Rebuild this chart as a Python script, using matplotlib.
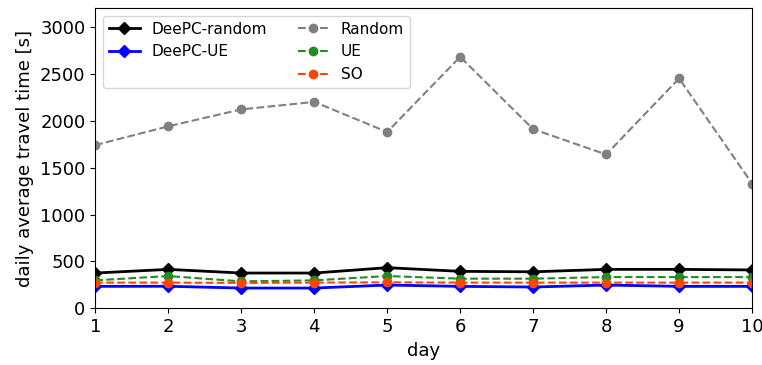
import matplotlib.pyplot as plt
import numpy as np

days = np.arange(1, 11)
deepc_random = [377, 416, 377, 377, 434, 395, 390, 416, 416, 410]
deepc_ue = [235, 236, 217, 217, 249, 235, 228, 249, 235, 235]
random_tt = [1740, 1940, 2120, 2200, 1880, 2680, 1910, 1640, 2450, 1330]
ue_tt = [299, 345, 288, 299, 345, 317, 317, 334, 334, 334]
so_tt = [275, 275, 272, 275, 278, 275, 275, 275, 275, 275]

fig, ax = plt.subplots(figsize=(7.62, 3.65), dpi=100)
h1, = ax.plot(days, deepc_random, "-D", color="black", lw=2, ms=6, label="DeePC-random")
h2, = ax.plot(days, deepc_ue, "-D", color="blue", lw=2, ms=6, label="DeePC-UE")
h3, = ax.plot(days, random_tt, "--o", color="grey", lw=1.5, ms=6, label="Random")
h4, = ax.plot(days, ue_tt, "--o", color="forestgreen", lw=1.5, ms=6, label="UE")
h5, = ax.plot(days, so_tt, "--o", color="orangered", lw=1.5, ms=6, label="SO")

# blank entry so the DeePC curves sit in their own legend column
blank, = ax.plot([], [], color="none", label=" ")

ax.set_xlim(1, 10)
ax.set_ylim(0, 3200)
ax.set_xticks(days)
ax.set_yticks(np.arange(0, 3001, 500))
ax.tick_params(labelsize=13)
ax.set_xlabel("day", fontsize=13)
ax.set_ylabel("daily average travel time [s]", fontsize=13)
ax.legend([h1, h2, blank, h3, h4, h5],
          ["DeePC-random", "DeePC-UE", "", "Random", "UE", "SO"],
          loc="upper left", ncol=2, fontsize=11)

fig.subplots_adjust(left=0.125, right=0.987, top=0.978, bottom=0.155)
fig.savefig("out.png", dpi=100)
